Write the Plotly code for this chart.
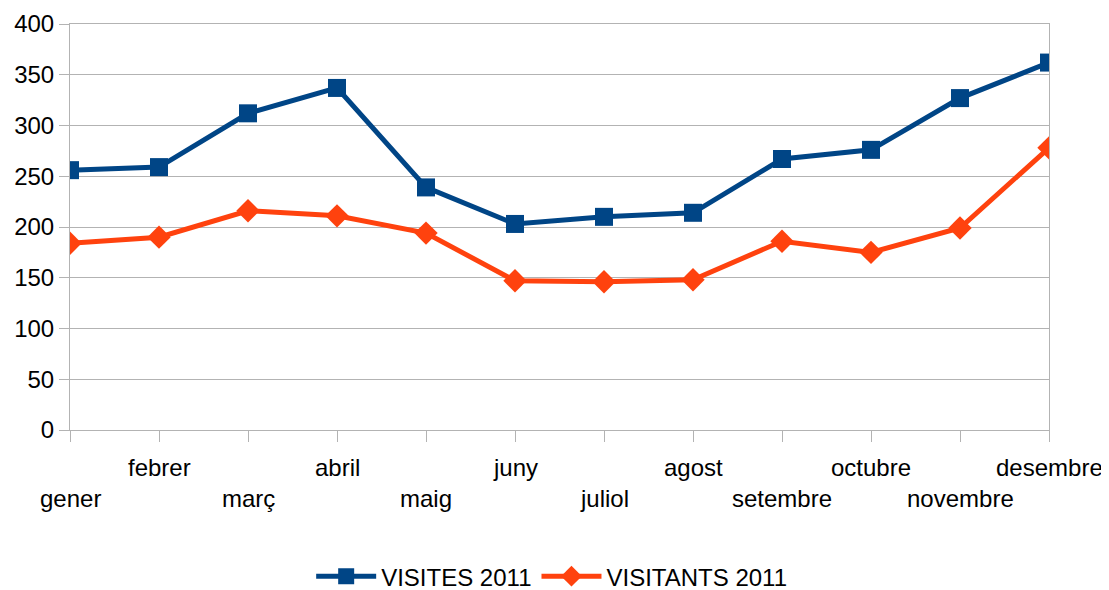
import plotly.graph_objects as go

months = ["gener", "febrer", "març", "abril", "maig", "juny", "juliol",
          "agost", "setembre", "octubre", "novembre", "desembre"]
visites_2011 = [256, 259, 312, 337, 239, 203, 210, 214, 267, 276, 327, 362]
visitants_2011 = [184, 190, 216, 211, 194, 147, 146, 148, 186, 175, 199, 278]
y_ticks = [0, 50, 100, 150, 200, 250, 300, 350, 400]

FONT = "Liberation Sans, Arial, sans-serif"
BLUE = "#004586"
ORANGE = "#ff420e"
GRID = "#b3b3b3"
FS = 24

fig = go.Figure()
fig.add_trace(go.Scatter(
    x=months, y=visites_2011, name="VISITES 2011", mode="lines+markers",
    line=dict(color=BLUE, width=5),
    marker=dict(symbol="square", size=18, color=BLUE),
))
fig.add_trace(go.Scatter(
    x=months, y=visitants_2011, name="VISITANTS 2011", mode="lines+markers",
    line=dict(color=ORANGE, width=5),
    marker=dict(symbol="diamond", size=18, color=ORANGE),
))

# staggered category labels
for i, m in enumerate(months):
    fig.add_annotation(
        x=m, xref="x", y=0, yref="paper", text=m, showarrow=False,
        yanchor="middle", yshift=-37 if i % 2 == 1 else -68,
        font=dict(family=FONT, size=FS, color="#000000"),
    )

# page body has an 8px margin; plot area placed so it lands at 70..1049 x 24..430
fig.update_layout(
    width=1101, height=610,
    margin=dict(l=62, r=60, t=16, b=188),
    paper_bgcolor="white", plot_bgcolor="white",
    font=dict(family=FONT, size=FS, color="#000000"),
    showlegend=True,
    legend=dict(orientation="h", x=0.492, xanchor="center", y=-0.361,
                yanchor="middle", font=dict(family=FONT, size=FS),
                itemwidth=60),
    xaxis=dict(
        type="category", range=[0, 11], showgrid=False, automargin=False,
        showline=True, linecolor=GRID, linewidth=1, mirror=True,
        ticks="outside", ticklen=11, tickcolor=GRID, tickwidth=1,
        showticklabels=False, zeroline=False,
    ),
    yaxis=dict(
        range=[0, 400], tickvals=y_ticks, showgrid=True, gridcolor=GRID,
        gridwidth=1, showline=True, linecolor=GRID, linewidth=1, mirror=True,
        ticks="outside", ticklen=10, tickcolor=GRID, tickwidth=1,
        zeroline=False, automargin=False, tickfont=dict(family=FONT, size=FS),
    ),
)

fig.write_html("out.html")
